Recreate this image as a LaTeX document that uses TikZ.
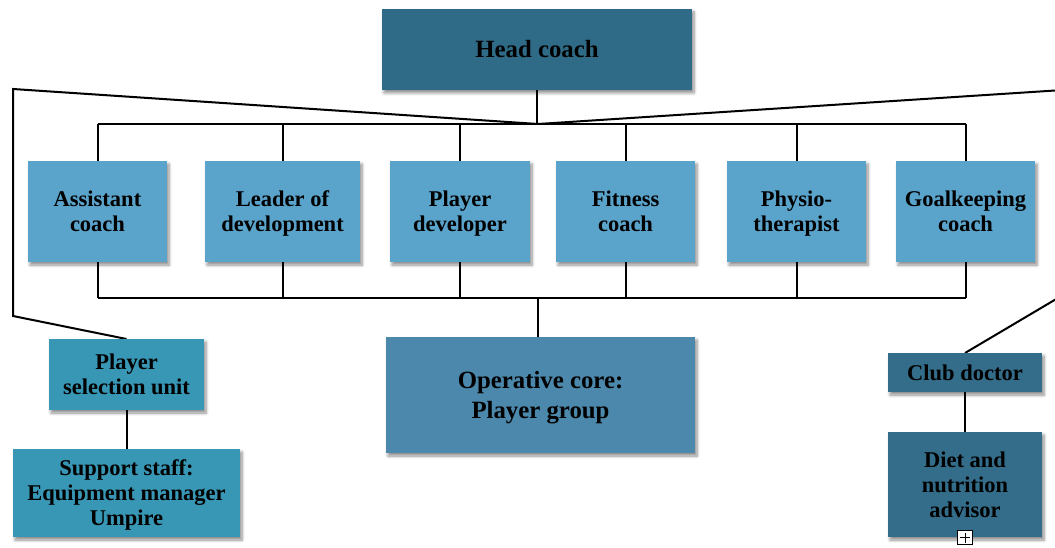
\documentclass[tikz,border=0pt]{standalone}
\usepackage{fontspec}
\setmainfont{Liberation Serif}
\usetikzlibrary{shadows.blur}

\definecolor{deepteal}{HTML}{2F6B87}
\definecolor{skyblue}{HTML}{5AA3CA}
\definecolor{coreblue}{HTML}{4B88AB}
\definecolor{seateal}{HTML}{3797B4}
\definecolor{navyteal}{HTML}{336D8A}

% a last line whose descenders should not shift the centring
\newcommand{\nodepth}[1]{\raisebox{0pt}[\height][0pt]{#1}}

\tikzset{
  unit/.style={draw=none, inner sep=0pt, align=center, text=black,
    font=\bfseries\fontsize{22.5}{25}\selectfont,
    blur shadow={shadow xshift=2pt, shadow yshift=-3pt, shadow opacity=45, shadow blur steps=6, shadow blur radius=3pt}},
  bigunit/.style={unit, font=\bfseries\fontsize{24.8}{30}\selectfont},
  link/.style={draw=black, line width=2pt},
}

\begin{document}
\begin{tikzpicture}[x=1pt, y=-1pt]
  \useasboundingbox (0,0) rectangle (1055,548);

  % hub points of the two staff buses
  \coordinate (hub) at (538,124);
  \coordinate (lowhub) at (538,298);

  % lines behind the boxes
  \draw[link] (hub) -- (13,89) -- (13,316) -- (126.5,339);
  \draw[link] (hub) -- (1063,90) -- (1063,295) -- (965,353);

  % top of the hierarchy
  \node[bigunit, fill=deepteal, minimum width=310pt, minimum height=81pt] (head) at (537,49.5) {Head coach};

  % coaching staff row
  \node[unit, fill=skyblue, minimum width=139pt, minimum height=101pt] (ac) at (97.5,211.5) {Assistant\\coach};
  \node[unit, fill=skyblue, minimum width=155pt, minimum height=101pt] (ld) at (282.5,211.5) {Leader of\\\nodepth{development}};
  \node[unit, fill=skyblue, minimum width=140pt, minimum height=101pt] (pd) at (460,211.5) {Player\\\nodepth{developer}};
  \node[unit, fill=skyblue, minimum width=139pt, minimum height=101pt] (fc) at (625.5,211.5) {Fitness\\coach};
  \node[unit, fill=skyblue, minimum width=139pt, minimum height=101pt] (ph) at (796.5,211.5) {Physio-\\\nodepth{therapist}};
  \node[unit, fill=skyblue, minimum width=139pt, minimum height=101pt] (gk) at (965.5,211.5) {Goalkeeping\\coach};

  % operative core
  \node[bigunit, fill=coreblue, minimum width=309pt, minimum height=116pt] (core) at (540.5,395) {Operative core:\\\nodepth{Player group}};

  % left branch
  \node[unit, fill=seateal, minimum width=155pt, minimum height=71pt] (psu) at (126.5,374.5) {Player\\selection unit};
  \node[unit, fill=seateal, minimum width=227pt, minimum height=88pt] (sup) at (126.5,493) {Support staff:\\Equipment manager\\\nodepth{Umpire}};

  % right branch
  \node[unit, fill=navyteal, minimum width=154pt, minimum height=39pt] (doc) at (965,372.5) {Club doctor};
  \node[unit, fill=navyteal, minimum width=154pt, minimum height=105pt] (diet) at (965,484.5) {Diet and\\nutrition\\advisor};

  % expand marker
  \node[draw=black, fill=white, line width=1pt, minimum width=15pt, minimum height=14pt, inner sep=0pt] (more) at ([yshift=-0.5pt]diet.south) {};
  \draw[line width=1pt] ([xshift=-5pt]more.center) -- ([xshift=5pt]more.center)
                        ([yshift=-5pt]more.center) -- ([yshift=5pt]more.center);

  % head coach to the buses
  \draw[link] (head.south) -- (head.south |- hub);
  \draw[link] (ac.north |- hub) -- (gk.north |- hub);
  \foreach \n in {ac,ld,pd,fc,ph,gk}{
    \draw[link] (\n.north |- hub) -- (\n.north);
    \draw[link] (\n.south) -- (\n.south |- lowhub);
  }
  \draw[link] (ac.south |- lowhub) -- (gk.south |- lowhub);
  \draw[link] (lowhub) -- (lowhub |- core.north);

  % branch links
  \draw[link] (psu.south) -- (sup.north);
  \draw[link] (doc.south) -- (diet.north);
\end{tikzpicture}
\end{document}
